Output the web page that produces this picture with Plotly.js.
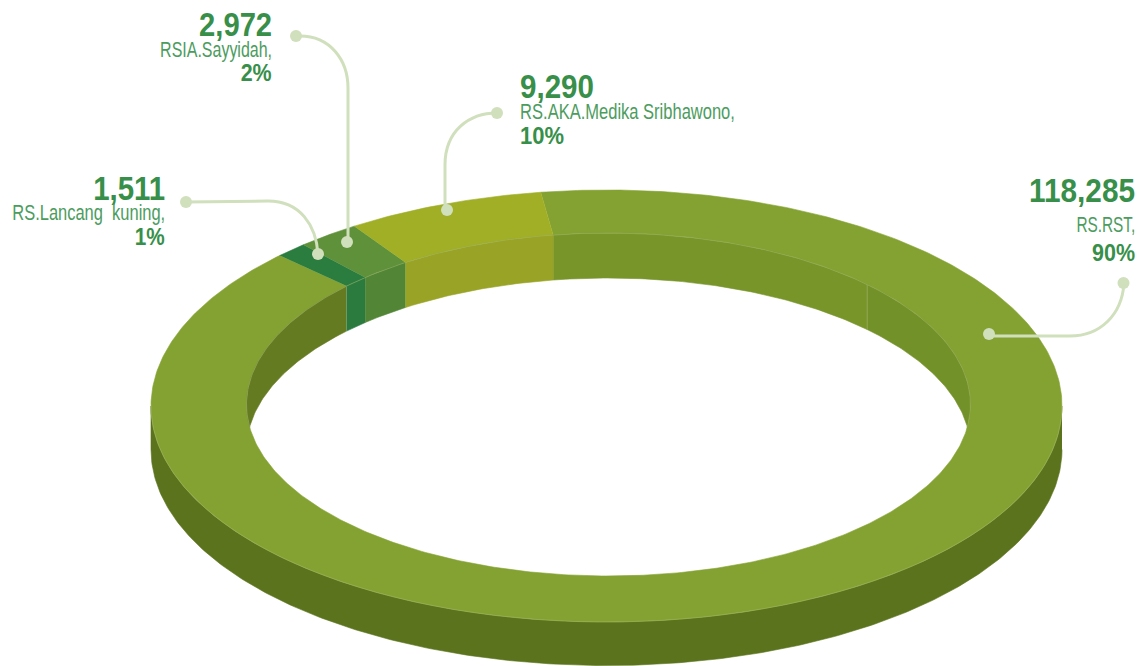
<!DOCTYPE html>
<html>
<head>
<meta charset="utf-8">
<script src="https://cdn.plot.ly/plotly-3.0.1.min.js"></script>
<style>html,body{margin:0;padding:0;background:#fff}#chart{width:1142px;height:666px}</style>
</head>
<body>
<div id="chart"></div>
<script>
// ---- data ----
const categories = ["RS.RST,", "RS.AKA.Medika Sribhawono,", "RSIA.Sayyidah,", "RS.Lancang\u00A0\u00A0kuning,"];
const values = [118285, 9290, 2972, 1511];
const percentLabels = ["90%", "10%", "2%", "1%"];
const topColors = ["#84A231", "#A0AF26", "#5E9139", "#2B7D3F"];
const wallColors = ["#78952A", "#99A325", "#528636", "#2C7B3E"];

// ---- projection of the ring (screen pixels as axis units) ----
const outer = {cx: 606.5, cy: 406, rx: 455.5, ry: 216};
const inner = {cx: 608.5, cy: 404.5, rx: 362, ry: 171.5};
const depthOuter = 43.5, depthInner = 45;
const startAngle = -8.8, outerTwist = 0.5;   // degrees clockwise from the top of the ellipse
const edgeColor = "#A3B96C", outerWall = "#5B731D";
const wallRightShade = "#739129", wallLeftShade = "#647B22", wallSeam = 45.6;

const rad = d => d * Math.PI / 180;
const pt = (e, a, dy = 0) => [e.cx + e.rx * Math.sin(rad(a)), e.cy - e.ry * Math.cos(rad(a)) + dy];
function arc(e, a, b, dy = 0) {
  const n = Math.max(2, Math.ceil(Math.abs(b - a) * 1.5)), out = [];
  for (let i = 0; i <= n; i++) out.push(pt(e, a + (b - a) * i / n, dy));
  return out;
}
function poly(points, color, lw = 0.6) {
  return {type: "scatter", mode: "lines", x: points.map(p => p[0]), y: points.map(p => p[1]),
    fill: "toself", fillcolor: color, line: {color: color, width: lw}, hoverinfo: "skip", showlegend: false};
}
function stroke(points, color, w) {
  return {type: "scatter", mode: "lines", x: points.map(p => p[0]), y: points.map(p => p[1]),
    line: {color: color, width: w}, hoverinfo: "skip", showlegend: false};
}
const total = values.reduce((s, v) => s + v, 0);
const spans = values.map(v => v / total * 360);
// order round the ring clockwise: main, then Lancang, Sayyidah, AKA (as in the picture)
const order = [0, 3, 2, 1];
let cursor = startAngle;
const seg = {};
order.forEach(i => { seg[i] = [cursor, cursor + spans[i]]; cursor += spans[i]; });

const traces = [];
// outer side wall
traces.push(poly(arc(outer, 90, 270).concat(arc(outer, 270, 90, depthOuter)), outerWall));
// top faces
order.forEach(i => {
  const [a, b] = seg[i];
  traces.push(poly(arc(outer, a + outerTwist, b + outerTwist).concat(arc(inner, b, a)), topColors[i]));
});
// inner wall: visible between the inner rim and the same rim moved down
const notchUpper = 82.5, notchLower = 97.5;
function wall(a, b, color) {
  const clamp = (x, lim) => Math.max(-lim, Math.min(lim, x));
  return poly(arc(inner, clamp(a, notchLower), clamp(b, notchLower))
    .concat(arc(inner, clamp(b, notchUpper), clamp(a, notchUpper), depthInner)), color);
}
const [mainA, mainB] = seg[0];
traces.push(wall(mainA, wallSeam, wallColors[0]));
traces.push(wall(wallSeam, notchLower, wallRightShade));
traces.push(wall(mainB - 360, -notchLower, wallLeftShade));
[3, 2, 1].forEach(i => traces.push(wall(seg[i][0] - 360, seg[i][1] - 360, wallColors[i])));
// fine light edges
traces.push(stroke(arc(inner, -notchLower, notchLower), edgeColor, 0.5));
traces.push(stroke(arc(outer, 90, 270), edgeColor, 0.5));
traces.push(stroke([pt(inner, wallSeam), pt(inner, wallSeam, depthInner)], edgeColor, 0.5));

// leader dots
const dotsX = [1123.5, 989, 497, 447, 296, 347, 186, 318];
const dotsY = [283, 334, 113, 210, 36, 242, 202, 254];
traces.push({type: "scatter", mode: "markers", x: dotsX, y: dotsY,
  marker: {color: "#D0DFBC", size: 12, line: {width: 0}}, hoverinfo: "skip", showlegend: false});

const leaderColor = "#D0DFBC";
const leaders = [
  "M1124 283 C1122 315 1100 336 1070 336 L989 336",
  "M497 113 C470 113 445 130 445 165 L445 209",
  "M296 36 L300 36 C330 36 348 60 348 88 L348 242",
  "M186 202 L268 201 C300 201 316 225 318 254"
];
const shapes = leaders.map(p => ({type: "path", path: p, xref: "x", yref: "y", layer: "above",
  line: {color: leaderColor, width: 3}}));

// labels (x, anchor, vertical centres, drawn widths of number / name / percent)
const numColor = "#378F49", nameColor = "#4C9C5E";
const labelPos = [
  {x: 1135.5, anchor: "right", y: [190, 224, 252],  w: [106, 59, 43]},
  {x: 519,    anchor: "left",  y: [86, 111, 135],   w: [74, 215, 44]},
  {x: 273,    anchor: "right", y: [24, 49, 72.5],   w: [73, 112, 31]},
  {x: 166,    anchor: "right", y: [188, 212, 236],  w: [72, 153, 30]}
];
const annotations = [], fitted = [];
values.forEach((v, i) => {
  const p = labelPos[i];
  const mk = (text, y, size, color, weight, w) => {
    fitted.push({w, anchor: p.anchor});
    return {x: p.x, y, xref: "x", yref: "y", xanchor: p.anchor, yanchor: "middle",
      text, showarrow: false, borderpad: 0,
      font: {family: "'Liberation Sans', sans-serif", size, color, weight}};
  };
  annotations.push(mk(v.toLocaleString("en-US"), p.y[0], 34, numColor, 700, p.w[0]));
  annotations.push(mk(categories[i], p.y[1], 22, nameColor, 400, p.w[1]));
  annotations.push(mk(percentLabels[i], p.y[2], 24, numColor, 700, p.w[2]));
});

Plotly.newPlot("chart", traces, {
  width: 1142, height: 666, margin: {l: 0, r: 0, t: 0, b: 0},
  paper_bgcolor: "#fff", plot_bgcolor: "#fff", showlegend: false,
  xaxis: {range: [0, 1142], visible: false, fixedrange: true},
  yaxis: {range: [666, 0], visible: false, fixedrange: true},
  shapes, annotations
}, {displayModeBar: false, staticPlot: true}).then(() => {
  // the original type is a narrow face: condense each label about its anchored edge, keeping it real text
  document.querySelectorAll("#chart .annotation-text").forEach((t, i) => {
    const f = fitted[i]; if (!f) return;
    const bb = t.getBBox();
    const edge = f.anchor === "right" ? bb.x + bb.width : bb.x;
    const k = f.w / bb.width;
    t.setAttribute("transform", `translate(${edge},0) scale(${k},1) translate(${-edge},0)`);
    // the unused background box must not stay wider than the text
    const bg = t.parentNode && t.parentNode.querySelector("rect.bg");
    if (bg) {
      bg.setAttribute("x", (parseFloat(bg.getAttribute("x")) || 0) + (f.anchor === "right" ? bb.width - f.w : 0));
      bg.setAttribute("width", f.w);
    }
  });
});
</script>
</body>
</html>
